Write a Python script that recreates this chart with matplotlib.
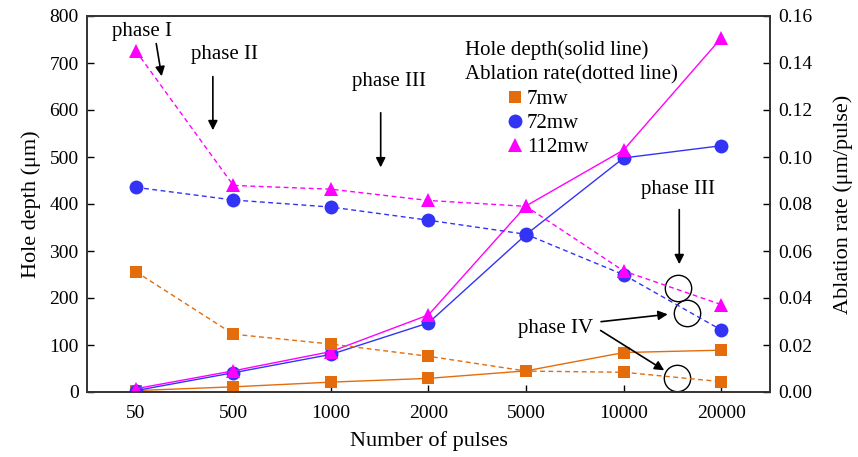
import matplotlib
matplotlib.use("Agg")
import matplotlib.pyplot as plt
from matplotlib.lines import Line2D

plt.rcParams['font.family'] = ['Liberation Serif', 'DejaVu Serif']
plt.rcParams['mathtext.fontset'] = 'stix'

# ---- data ----
pulses = ["50", "500", "1000", "2000", "5000", "10000", "20000"]
powers = ["7mw", "72mw", "112mw"]

depth_7 = [3, 11, 21, 29, 45, 84, 89]
depth_72 = [3, 41, 80, 147, 335, 498, 524]
depth_112 = [7, 45, 86, 164, 396, 515, 753]

rate_7 = [0.0512, 0.0246, 0.0204, 0.0152, 0.0089, 0.0084, 0.0044]
rate_72 = [0.0871, 0.0817, 0.0787, 0.0731, 0.0671, 0.0499, 0.0264]
rate_112 = [0.1452, 0.0879, 0.0863, 0.0815, 0.0790, 0.0515, 0.0372]

left_ticks = [0, 100, 200, 300, 400, 500, 600, 700, 800]
right_ticks = [0.00, 0.02, 0.04, 0.06, 0.08, 0.10, 0.12, 0.14, 0.16]

colors = ["#E46C0A", "#3333F5", "#FF00FF"]
markers = ["s", "o", "^"]
msizes = [9, 10, 10]

x = list(range(len(pulses)))

fig = plt.figure(figsize=(8.58, 4.57), dpi=100)
ax = fig.add_axes([87/858, 1 - 392/457, (770-87)/858, (392-16)/457])
ax2 = ax.twinx()

depths = [depth_7, depth_72, depth_112]
rates = [rate_7, rate_72, rate_112]

for d, r, c, m, ms in zip(depths, rates, colors, markers, msizes):
    ax.plot(x, d, color=c, lw=1.0, marker=m, ms=ms, markeredgewidth=0, zorder=3)
    ax2.plot(x, r, color=c, lw=1.0, ls=(0, (3.5, 2.5)), marker=m, ms=ms,
             markeredgewidth=0, zorder=3)

ax.set_xlim(-0.5, 6.5)
ax.set_ylim(0, 800)
ax2.set_ylim(0, 0.16)
ax.set_xticks(x)
ax.set_xticklabels(pulses)
ax.set_yticks(left_ticks)
ax2.set_yticks(right_ticks)
ax2.set_yticklabels([f"{t:.2f}" for t in right_ticks])

for a in (ax, ax2):
    a.tick_params(direction='in', length=5, width=1, labelsize=14, pad=6)
    for s in a.spines.values():
        s.set_linewidth(1.2)
        s.set_color('#333333')
ax.tick_params(axis='x', pad=9)

ax.set_xlabel("Number of pulses", fontsize=16, labelpad=7)
ax.set_ylabel("Hole depth (μm)", fontsize=16, labelpad=6)
ax2.set_ylabel("Ablation rate (μm/pulse)", fontsize=16, labelpad=15)

# legend
handles = [Line2D([], [], ls='none', marker=m, color=c, ms=ms, markeredgewidth=0)
           for c, m, ms in zip(colors, markers, msizes)]
ax.legend(handles, powers, loc='upper left', bbox_to_anchor=(0.615, 0.805),
          frameon=False, fontsize=15, handlelength=0.8, handletextpad=0.15,
          labelspacing=0.22, borderpad=0, borderaxespad=0)
ax.text(0.553, 0.91, "Hole depth(solid line)", transform=ax.transAxes,
        fontsize=15, va='center', ha='left')
ax.text(0.553, 0.843, "Ablation rate(dotted line)", transform=ax.transAxes,
        fontsize=15, va='center', ha='left')

# phase annotations (data coords, left axis)
arrow = dict(arrowstyle='-|>', color='black', lw=1.2, mutation_scale=14)
ax.text(0.06, 766, "phase I", fontsize=15, ha='center', va='center')
ax.annotate("", xy=(0.27, 666), xytext=(0.205, 747), arrowprops=arrow)
ax.text(0.91, 719, "phase II", fontsize=15, ha='center', va='center')
ax.annotate("", xy=(0.79, 551), xytext=(0.79, 677), arrowprops=arrow)
ax.text(2.6, 660, "phase III", fontsize=15, ha='center', va='center')
ax.annotate("", xy=(2.51, 472), xytext=(2.51, 600), arrowprops=arrow)
ax.text(5.56, 430, "phase III", fontsize=15, ha='center', va='center')
ax.annotate("", xy=(5.57, 266), xytext=(5.57, 394), arrowprops=arrow)
ax.text(4.3, 136, "phase IV", fontsize=15, ha='center', va='center')
ax.annotate("", xy=(5.48, 166), xytext=(4.74, 149), arrowprops=arrow)
ax.annotate("", xy=(5.44, 43), xytext=(4.74, 134), arrowprops=arrow)

circle_x = [5.56, 5.65, 5.55]
circle_y = [221, 168, 30]
ax.plot(circle_x, circle_y, ls='none', marker='o', ms=19, mfc='none',
        mec='black', mew=1.0, zorder=4)

fig.savefig("out.png", dpi=100)
